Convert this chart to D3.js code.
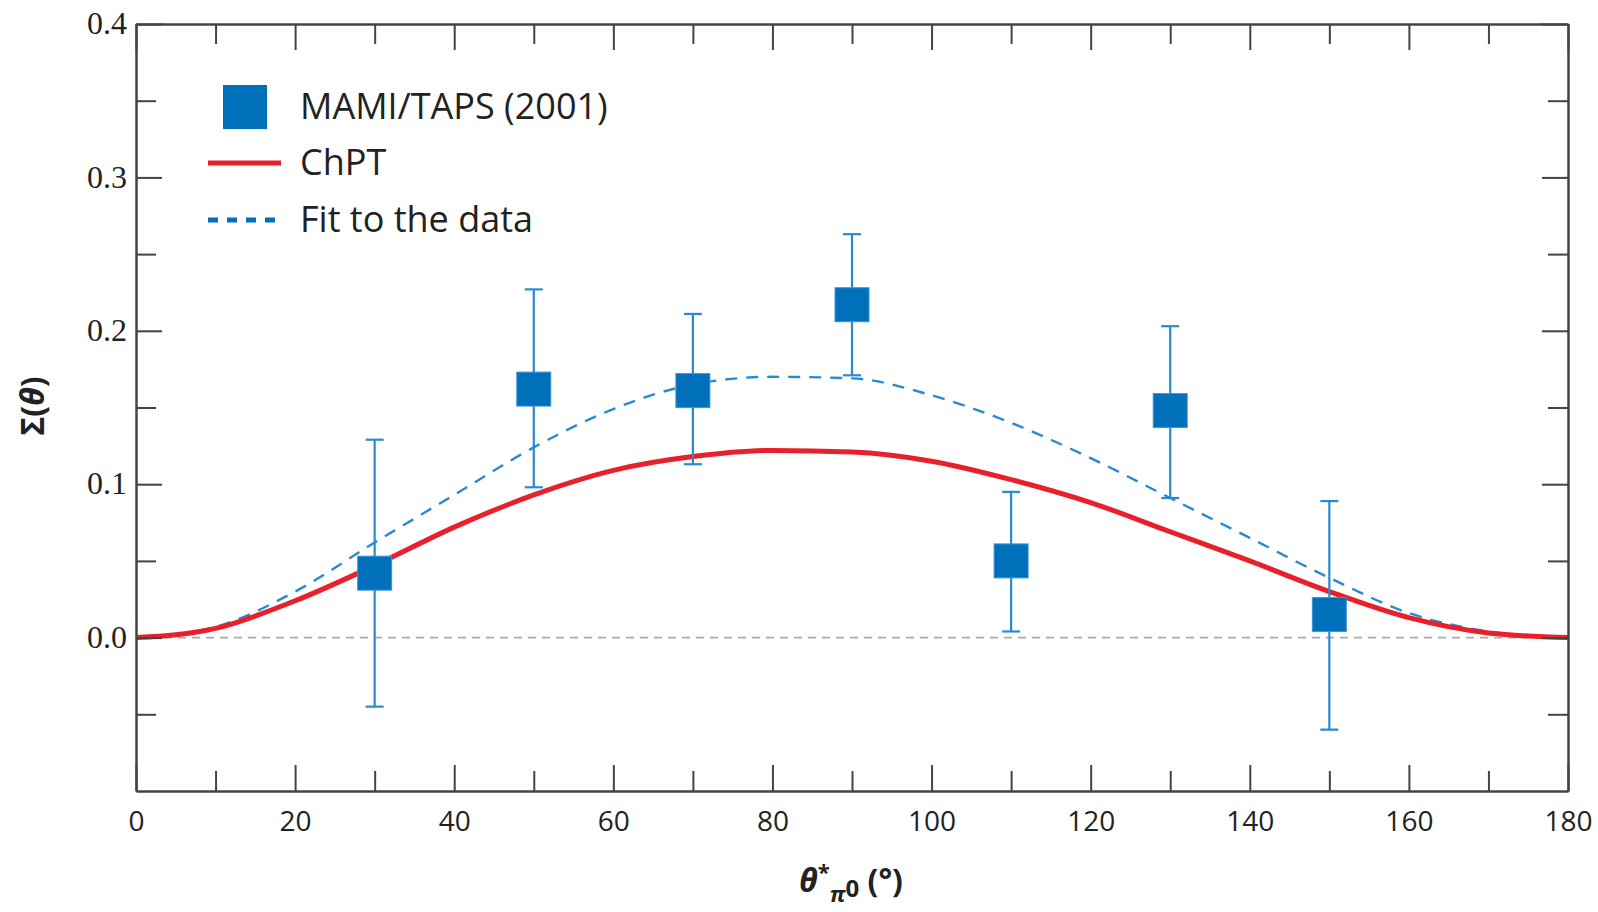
<!DOCTYPE html>
<html>
<head>
<meta charset="utf-8">
<script src="https://cdn.jsdelivr.net/npm/d3@7"></script>
<style>
  body { margin: 0; background: #fff; }
  svg { display: block; }
  .axis path, .axis line { stroke: #444; stroke-width: 2; }
  .ylab text { font-family: "Liberation Serif", serif; font-size: 32px; fill: #222; }
  .xlab text { font-family: "Open Sans", sans-serif; font-size: 28px; fill: #222; }
</style>
</head>
<body>
<svg width="1598" height="912"></svg>
<script>
// data points: angle, value, error bar low / high
const angles = [30, 50, 70, 90, 110, 130, 150];
const sigma = [0.042, 0.162, 0.161, 0.217, 0.050, 0.148, 0.015];
const errLow = [-0.045, 0.098, 0.113, 0.171, 0.004, 0.091, -0.060];
const errHigh = [0.129, 0.227, 0.211, 0.263, 0.095, 0.203, 0.089];

// curves every 10 degrees
const curveAngles = [0, 10, 20, 30, 40, 50, 60, 70, 80, 90, 100, 110, 120, 130, 140, 150, 160, 170, 180];
const chpt = [0, 0.006, 0.024, 0.047, 0.072, 0.093, 0.109, 0.118, 0.122, 0.121, 0.115, 0.103, 0.088, 0.069, 0.050, 0.030, 0.013, 0.003, 0];
const fit = [0, 0.007, 0.030, 0.062, 0.093, 0.124, 0.149, 0.165, 0.170, 0.169, 0.158, 0.140, 0.117, 0.091, 0.065, 0.039, 0.016, 0.004, 0];

const xMajor = [0, 20, 40, 60, 80, 100, 120, 140, 160, 180];
const xMinor = [10, 30, 50, 70, 90, 110, 130, 150, 170];
const yMajor = [0.0, 0.1, 0.2, 0.3, 0.4];
const yMinor = [-0.05, 0.05, 0.15, 0.25, 0.35];

const legendLabels = ["MAMI/TAPS (2001)", "ChPT", "Fit to the data"];

const margin = { top: 24, right: 30, bottom: 121, left: 136 };
const W = 1598, H = 912;
const w = W - margin.left - margin.right;
const h = H - margin.top - margin.bottom;

const blue = "#0070ba";
const barBlue = "#2a8ad0";
const red = "#e8202b";

const svg = d3.select("svg");
const g = svg.append("g").attr("transform", "translate(" + margin.left + "," + margin.top + ")");

const x = d3.scaleLinear().domain([0, 180]).range([0, w]);
const y = d3.scaleLinear().domain([-0.1, 0.4]).range([h, 0]);

// zero reference line
g.append("line")
    .attr("x1", x(0)).attr("x2", x(180))
    .attr("y1", y(0)).attr("y2", y(0))
    .attr("stroke", "#aaa")
    .attr("stroke-width", 1.6)
    .attr("stroke-dasharray", "8,6");

// curves
const line = d3.line()
    .x((d, i) => x(curveAngles[i]))
    .y(d => y(d))
    .curve(d3.curveMonotoneX);

g.append("path")
    .datum(fit)
    .attr("d", line)
    .attr("fill", "none")
    .attr("stroke", barBlue)
    .attr("stroke-width", 2.4)
    .attr("stroke-dasharray", "12,9");

g.append("path")
    .datum(chpt)
    .attr("d", line)
    .attr("fill", "none")
    .attr("stroke", red)
    .attr("stroke-width", 5);

// error bars
const pts = angles.map((a, i) => ({ a: a, v: sigma[i], lo: errLow[i], hi: errHigh[i] }));
const cap = 9;

const eb = g.selectAll(".eb").data(pts).enter().append("g").attr("class", "eb")
    .attr("stroke", barBlue).attr("stroke-width", 2.2);
eb.append("line")
    .attr("x1", d => x(d.a)).attr("x2", d => x(d.a))
    .attr("y1", d => y(d.lo)).attr("y2", d => y(d.hi));
eb.append("line")
    .attr("x1", d => x(d.a) - cap).attr("x2", d => x(d.a) + cap)
    .attr("y1", d => y(d.hi)).attr("y2", d => y(d.hi));
eb.append("line")
    .attr("x1", d => x(d.a) - cap).attr("x2", d => x(d.a) + cap)
    .attr("y1", d => y(d.lo)).attr("y2", d => y(d.lo));

// squares
const sq = 34;
g.selectAll(".pt").data(pts).enter().append("rect")
    .attr("class", "pt")
    .attr("x", d => x(d.a) - sq / 2)
    .attr("y", d => y(d.v) - sq / 2)
    .attr("width", sq).attr("height", sq)
    .attr("fill", blue)
    .attr("stroke", "#3d95d6")
    .attr("stroke-width", 1);

// axes - ticks point inward on all four sides
function noLabels(sel) { sel.selectAll("text").remove(); }

g.append("g").attr("class", "axis xlab")
    .attr("transform", "translate(0," + h + ")")
    .call(d3.axisBottom(x).tickValues(xMajor).tickSize(-26).tickPadding(0).tickSizeOuter(0).tickFormat(d3.format("d")))
    .call(s => s.selectAll("text").attr("y", 40).attr("dy", 0));
g.append("g").attr("class", "axis")
    .attr("transform", "translate(0," + h + ")")
    .call(d3.axisBottom(x).tickValues(xMinor).tickSize(-20).tickSizeOuter(0))
    .call(noLabels);
g.append("g").attr("class", "axis")
    .call(d3.axisTop(x).tickValues(xMajor).tickSize(-26).tickSizeOuter(0))
    .call(noLabels);
g.append("g").attr("class", "axis")
    .call(d3.axisTop(x).tickValues(xMinor).tickSize(-20).tickSizeOuter(0))
    .call(noLabels);

g.append("g").attr("class", "axis ylab")
    .call(d3.axisLeft(y).tickValues(yMajor).tickSize(-26).tickSizeOuter(0).tickFormat(d3.format(".1f")))
    .call(s => s.selectAll("text").attr("x", -9).attr("dy", "0.3em"));
g.append("g").attr("class", "axis")
    .call(d3.axisLeft(y).tickValues(yMinor).tickSize(-20).tickSizeOuter(0))
    .call(noLabels);
g.append("g").attr("class", "axis")
    .attr("transform", "translate(" + w + ",0)")
    .call(d3.axisRight(y).tickValues(yMajor).tickSize(-26).tickSizeOuter(0))
    .call(noLabels);
g.append("g").attr("class", "axis")
    .attr("transform", "translate(" + w + ",0)")
    .call(d3.axisRight(y).tickValues(yMinor).tickSize(-20).tickSizeOuter(0))
    .call(noLabels);

// axis titles
const yt = svg.append("text")
    .attr("transform", "translate(44," + 406 + ") rotate(-90)")
    .attr("text-anchor", "middle")
    .style("font-family", "'Open Sans', sans-serif")
    .style("font-weight", "bold")
    .style("font-size", "32px")
    .attr("fill", "#222");
yt.append("tspan").text("Σ(");
yt.append("tspan").style("font-style", "italic").text("θ");
yt.append("tspan").text(")");

const xt = svg.append("text")
    .attr("x", 851).attr("y", 892)
    .attr("text-anchor", "middle")
    .style("font-family", "'Open Sans', sans-serif")
    .style("font-weight", "bold")
    .style("font-size", "32px")
    .attr("fill", "#222");
xt.append("tspan").style("font-style", "italic").text("θ");
xt.append("tspan").attr("dy", -12).style("font-size", "22px").text("*");
xt.append("tspan").attr("dy", 22).style("font-size", "22px").style("font-style", "italic").text("π");
xt.append("tspan").attr("dy", -5).style("font-size", "24px").text("0");
xt.append("tspan").attr("dy", -5).text(" (°)");

// legend
const leg = svg.append("g");
const legY = [107, 163, 220];
leg.append("rect")
    .attr("x", 223).attr("y", legY[0] - 22)
    .attr("width", 44).attr("height", 44)
    .attr("fill", blue);
leg.append("line")
    .attr("x1", 208).attr("x2", 281)
    .attr("y1", legY[1]).attr("y2", legY[1])
    .attr("stroke", red).attr("stroke-width", 5);
leg.append("line")
    .attr("x1", 208).attr("x2", 281)
    .attr("y1", legY[2]).attr("y2", legY[2])
    .attr("stroke", blue).attr("stroke-width", 5)
    .attr("stroke-dasharray", "10,9");
leg.selectAll(".lt").data(legendLabels).enter().append("text")
    .attr("x", 300)
    .attr("y", (d, i) => legY[i] + 12)
    .style("font-family", "'Open Sans', sans-serif")
    .style("font-size", "36px")
    .attr("fill", "#222")
    .text(d => d);
</script>
</body>
</html>
